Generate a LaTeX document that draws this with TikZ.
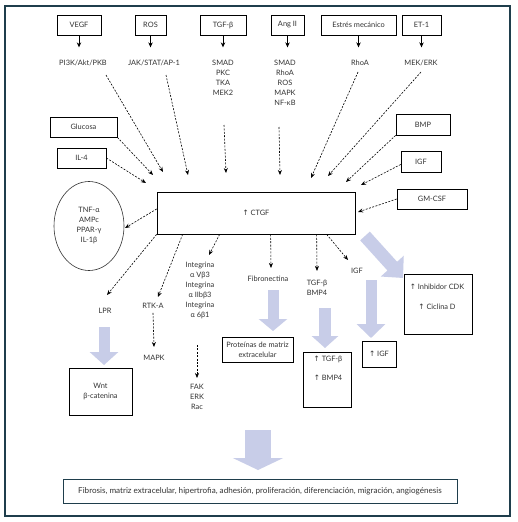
\documentclass[tikz,border=0pt]{standalone}
\usepackage{fontspec}
\setmainfont{Lato}
\newfontfamily\symf{DejaVu Sans}
\usetikzlibrary{arrows.meta,shapes.geometric}
\definecolor{lav}{HTML}{C8CDE8}
\definecolor{framec}{HTML}{1F3E4C}
\definecolor{txt}{HTML}{333333}
\newcommand{\upa}{{\symf\char"2191}}
\begin{document}
\begin{tikzpicture}[x=1pt,y=-1pt,
  font=\fontsize{7.4}{10}\selectfont, text=txt,
  box/.style={draw=black, line width=0.7pt, minimum height=20pt, inner sep=0pt, align=center},
  lbl/.style={align=center, inner sep=1pt},
  dasharr/.style={dash pattern=on 2pt off 1.4pt, line width=0.6pt, -{Stealth[length=5pt,width=4pt]}},
  solarr/.style={line width=0.8pt, -{Stealth[length=5pt,width=4.5pt]}},
  fatarr/.style args={#1/#2/#3}{draw=lav, line width=#1pt, line cap=butt, -{Triangle[width=#2pt,length=#3pt]}}
]
\useasboundingbox (0,0) rectangle (518,522);
\fill[white] (0,0) rectangle (518,522);
\draw[framec, line width=1.1pt] (5,6) rectangle (510,516);

% top boxes
\node[box, minimum width=44] (vegf) at (79,25) {VEGF};
\node[box, minimum width=31] (ros) at (150.5,25) {ROS};
\node[box, minimum width=46] (tgfb) at (223,25) {TGF-β};
\node[box, minimum width=33] (ang) at (287.5,25) {Ang II};
\node[box, minimum width=75] (estres) at (358.5,25) {Estrés mecánico};
\node[box, minimum width=39] (et1) at (421.5,25) {ET-1};

% second-row labels
\node[lbl] (pi3k) at (83,63) {PI3K/Akt/PKB};
\node[lbl] (jak) at (154,63) {JAK/STAT/AP-1};
\node[lbl] (tgfl) at (223,78) {SMAD\\PKC\\TKA\\MEK2};
\node[lbl] (angl) at (285,83) {SMAD\\RhoA\\ROS\\MAPK\\NF-κB};
\node[lbl] (rhoa) at (360,63) {RhoA};
\node[lbl] (mekerk) at (421,63) {MEK/ERK};

\foreach \b in {vegf,ros,tgfb,ang,estres,et1}
  \draw[solarr] (\b.south) -- ([yshift=-12pt]\b.south);

% side boxes
\node[box, minimum width=67] (glucosa) at (83.5,127) {Glucosa};
\node[box, minimum width=49] (il4) at (81.5,158) {IL-4};
\node[box, minimum width=54, minimum height=21] (bmp) at (423,124.5) {BMP};
\node[box, minimum width=40, minimum height=21] (igfb) at (421,161.5) {IGF};
\node[box, minimum width=70] (gmcsf) at (432,199) {GM-CSF};

% central box
\node[box, minimum width=198, minimum height=42] (ctgf) at (256,213) {\upa\ CTGF};

% ellipse
\node[ellipse, draw=txt, line width=0.6pt, minimum width=70, minimum height=89, inner sep=0pt, align=center] (ell) at (89,226) {TNF-α\\AMPc\\PPAR-γ\\IL-1β};

% incoming dashed arrows
\coordinate (s1) at (106,75);  \coordinate (e1) at (163,172);
\coordinate (s2) at (166,75);  \coordinate (e2) at (188,175);
\coordinate (s3) at (224,125); \coordinate (e3) at (226,173);
\coordinate (s4) at (279,127); \coordinate (e4) at (280,175);
\coordinate (s5) at (358,72);  \coordinate (e5) at (311,178);
\coordinate (s6) at (421,72);  \coordinate (e6) at (328,176);
\coordinate (e7) at (346,182);
\coordinate (e8) at (361,185);
\coordinate (e9) at (358,212);
\coordinate (e10) at (153,175);
\coordinate (e11) at (146,183);
\draw[dasharr] (s1) -- (e1);
\draw[dasharr] (s2) -- (e2);
\draw[dasharr] (s3) -- (e3);
\draw[dasharr] (s4) -- (e4);
\draw[dasharr] (s5) -- (e5);
\draw[dasharr] (s6) -- (e6);
\draw[dasharr] (bmp.south west) -- (e7);
\draw[dasharr] ([yshift=-3pt]igfb.west) -- (e8);
\draw[dasharr] (gmcsf.west) -- (e9);
\draw[dasharr] (glucosa.south east) -- (e10);
\draw[dasharr] (il4.east) -- (e11);

% output labels
\node[lbl] (lpr) at (105,311) {LPR};
\node[lbl] (rtka) at (153,306) {RTK-A};
\node[lbl] (integ) at (200,290) {Integrina\\α Vβ3\\Integrina\\α IIbβ3\\Integrina\\α 6β1};
\node[lbl] (fibro) at (268,279) {Fibronectina};
\node[lbl] (tgfbmp) at (317,288) {TGF-β\\BMP4};
\node[lbl] (igfl) at (357,271) {IGF};
\node[lbl] (mapk) at (154,358) {MAPK};
\node[lbl] (fak) at (197,397) {FAK\\ERK\\Rac};

% outgoing dashed arrows
\coordinate (o1) at (125,228);
\coordinate (o2) at (107,295);
\coordinate (o3) at (158,297);
\coordinate (o4) at (209,255);
\coordinate (o5) at (271,268);
\coordinate (o6) at (317,271);
\coordinate (o7) at (348,260);
\draw[dasharr] ([yshift=4pt]ctgf.west) -- (o1);
\draw[dasharr] (ctgf.south west) -- (o2);
\draw[dasharr] ([xshift=26pt]ctgf.south west) -- (o3);
\draw[dasharr] ([xshift=63pt]ctgf.south west) -- (o4);
\draw[dasharr] ([xshift=114pt]ctgf.south west) -- (o5);
\draw[dasharr] ([xshift=160pt]ctgf.south west) -- (o6);
\draw[dasharr] ([xshift=170pt]ctgf.south west) -- (o7);
\coordinate (m1) at (154,347);
\coordinate (m2) at (197,345); \coordinate (m3) at (197,378);
\draw[dasharr] ([yshift=-3pt]rtka.south) -- (m1);
\draw[dasharr] (m2) -- (m3);

% result boxes
\node[box, minimum width=63, minimum height=47] (wnt) at (100.5,391.5) {Wnt\\β-catenina};
\node[box, minimum width=71, minimum height=25] (prot) at (257.5,349.5) {Proteínas de matriz\\extracelular};
\node[box, minimum width=48, minimum height=55] (tgfbox) at (327,379.5) {};
\node[lbl] (tgft) at (328,359) {\upa\ TGF-β};
\node[lbl] (bmpt) at (328,378) {\upa\ BMP4};
\node[box, minimum width=34, minimum height=26] (igfbox) at (379,354) {\upa\ IGF};
\node[box, minimum width=68, minimum height=60] (inhib) at (438,304) {};
\node[lbl] (inht) at (437,287) {\upa\ Inhibidor CDK};
\node[lbl] (cict) at (437,307) {\upa\ Ciclina D};

% fat arrows
\coordinate (f1a) at (104,327); \coordinate (f1b) at (104,365);
\coordinate (f2a) at (273,290); \coordinate (f2b) at (273,331);
\coordinate (f3a) at (325,308); \coordinate (f3b) at (325,348);
\coordinate (f4a) at (371,280); \coordinate (f4b) at (371,338);
\coordinate (f5a) at (365,236); \coordinate (f5b) at (403,278);
\coordinate (f6a) at (258,430); \coordinate (f6b) at (258,470);
\draw[fatarr=11/28/13] (f1a) -- (f1b);
\draw[fatarr=11/28/12] (f2a) -- (f2b);
\draw[fatarr=12/26/12] (f3a) -- (f3b);
\draw[fatarr=11/28/14] (f4a) -- (f4b);
\draw[fatarr=13/30/16] (f5a) -- (f5b);
\draw[fatarr=26/50/12] (f6a) -- (f6b);

% bottom box
\node[box, draw=framec, minimum width=394, minimum height=24, font=\fontsize{8.1}{10}\selectfont] (res) at (260,491) {Fibrosis, matriz extracelular, hipertrofia, adhesión, proliferación, diferenciación, migración, angiogénesis};
\end{tikzpicture}
\end{document}
